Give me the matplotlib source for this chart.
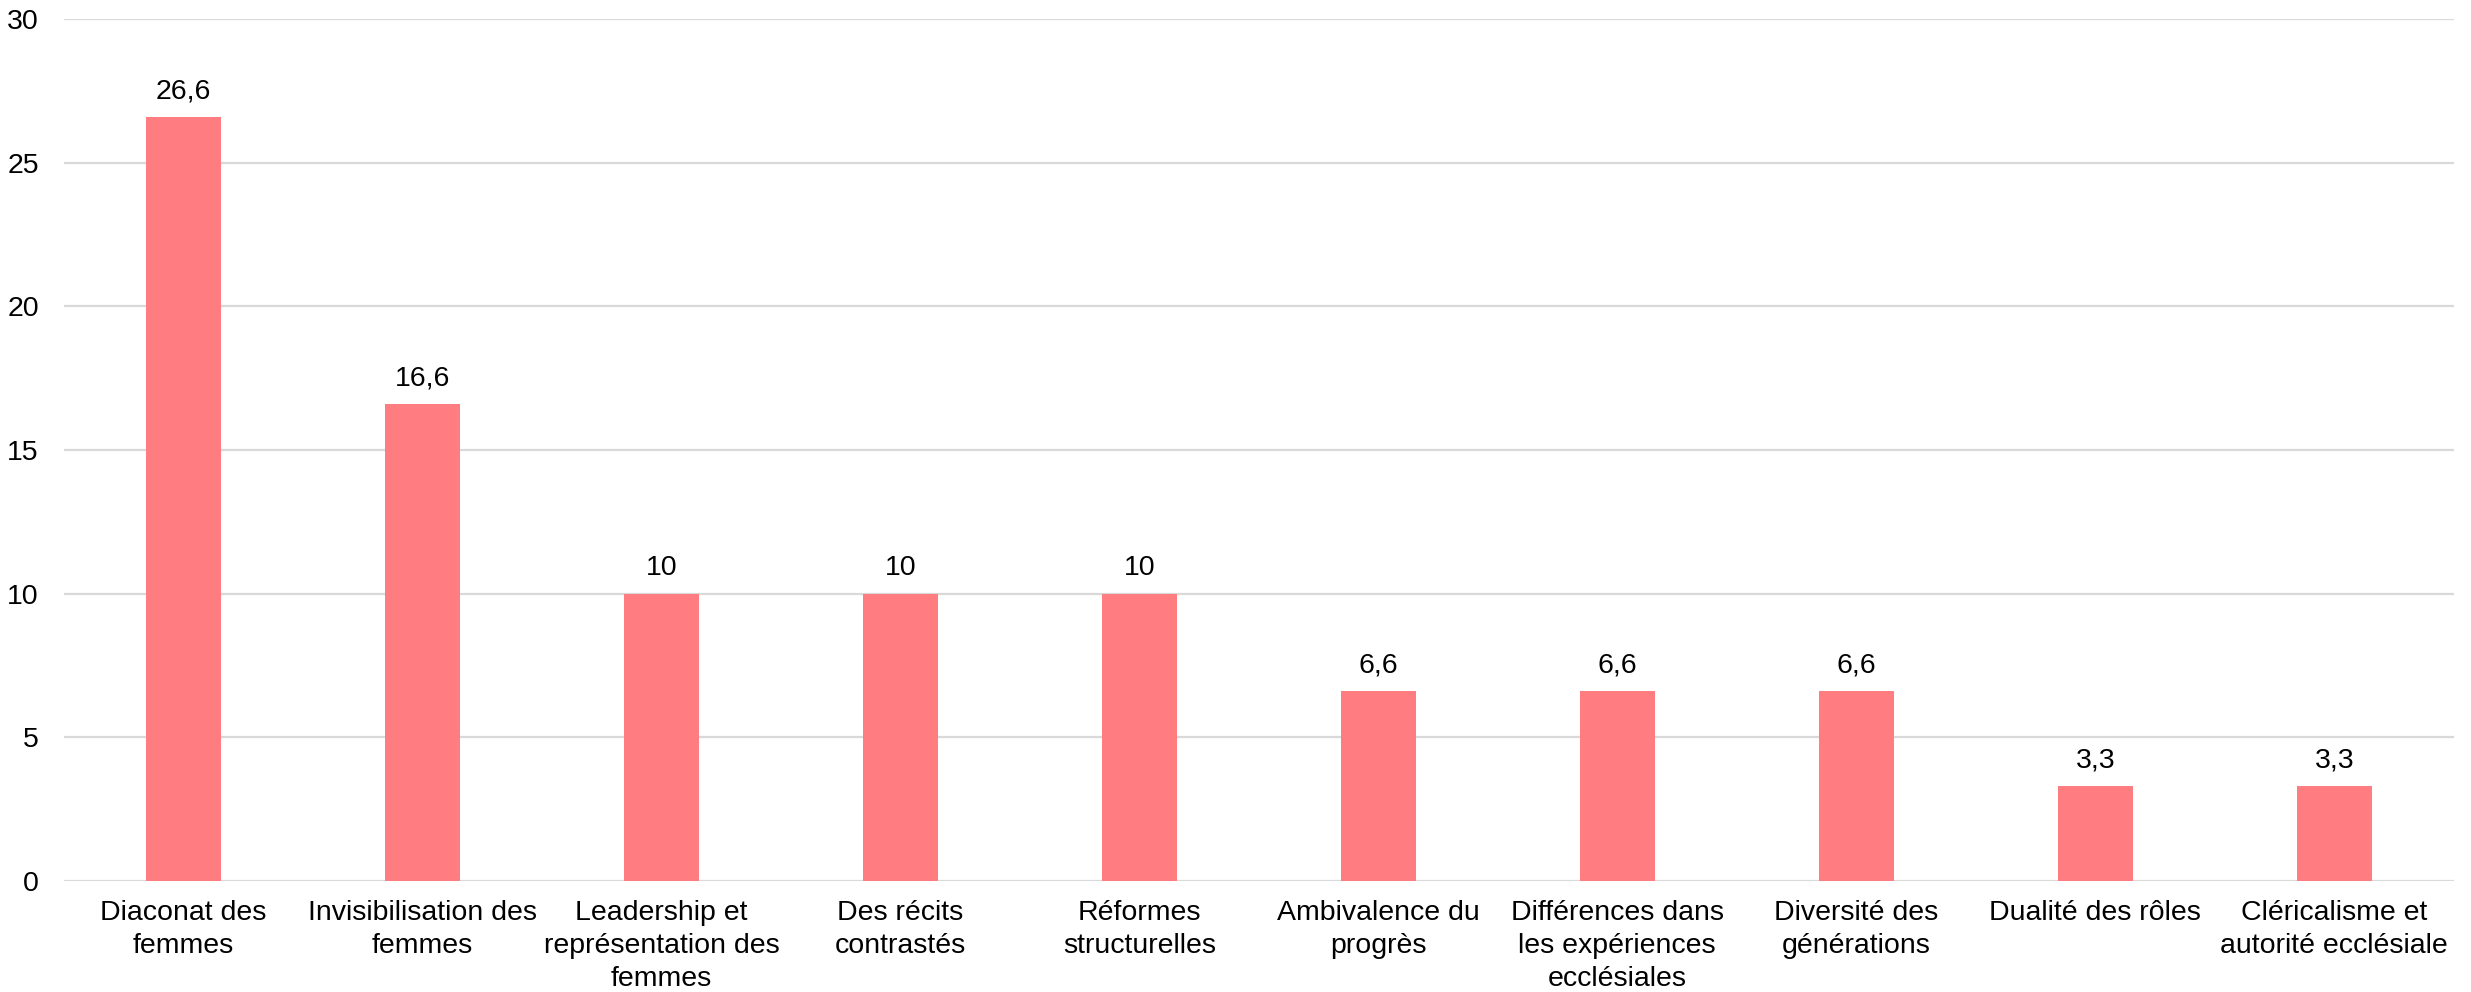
import matplotlib
matplotlib.use("Agg")
import matplotlib.pyplot as plt
import numpy as np

# ---- data ----
categories = [
    "Diaconat des\nfemmes",
    "Invisibilisation des\nfemmes",
    "Leadership et\nreprésentation des\nfemmes",
    "Des récits\ncontrastés",
    "Réformes\nstructurelles",
    "Ambivalence du\nprogrès",
    "Différences dans\nles expériences\necclésiales",
    "Diversité des\ngénérations",
    "Dualité des rôles",
    "Cléricalisme et\nautorité ecclésiale",
]
values = [26.6, 16.6, 10, 10, 10, 6.6, 6.6, 6.6, 3.3, 3.3]
yticks = [0, 5, 10, 15, 20, 25, 30]

plt.rcParams['font.family'] = ['Liberation Sans', 'DejaVu Sans']

fig = plt.figure(figsize=(24.71, 9.92), dpi=100)
ax = fig.add_axes([0.0259, 0.1119, 0.9671, 0.8691])

x = np.arange(len(categories))
bars = ax.bar(x, values, width=0.314, color='#FF7C80', zorder=3)

for bar, v in zip(bars, values):
    txt = ('%g' % v).replace('.', ',')
    ax.annotate(txt, (bar.get_x() + bar.get_width() / 2, v),
                xytext=(0, 9), textcoords='offset points',
                ha='center', va='bottom', fontsize=20.5, color='black')

ax.set_xlim(-0.5, len(categories) - 0.5)
ax.set_ylim(0, 30)
ax.set_yticks(yticks)
ax.set_yticklabels([str(t) for t in yticks], fontsize=20.5)
ax.set_xticks(x)
ax.set_xticklabels(categories, fontsize=20.5, linespacing=1.33)
ax.yaxis.grid(True, color='#D9D9D9', linewidth=1.6, zorder=0)
ax.tick_params(axis='both', length=0)
ax.tick_params(axis='y', pad=18)
ax.tick_params(axis='x', pad=14)
for s in ax.spines.values():
    s.set_visible(False)

fig.savefig('out.png', dpi=100)
